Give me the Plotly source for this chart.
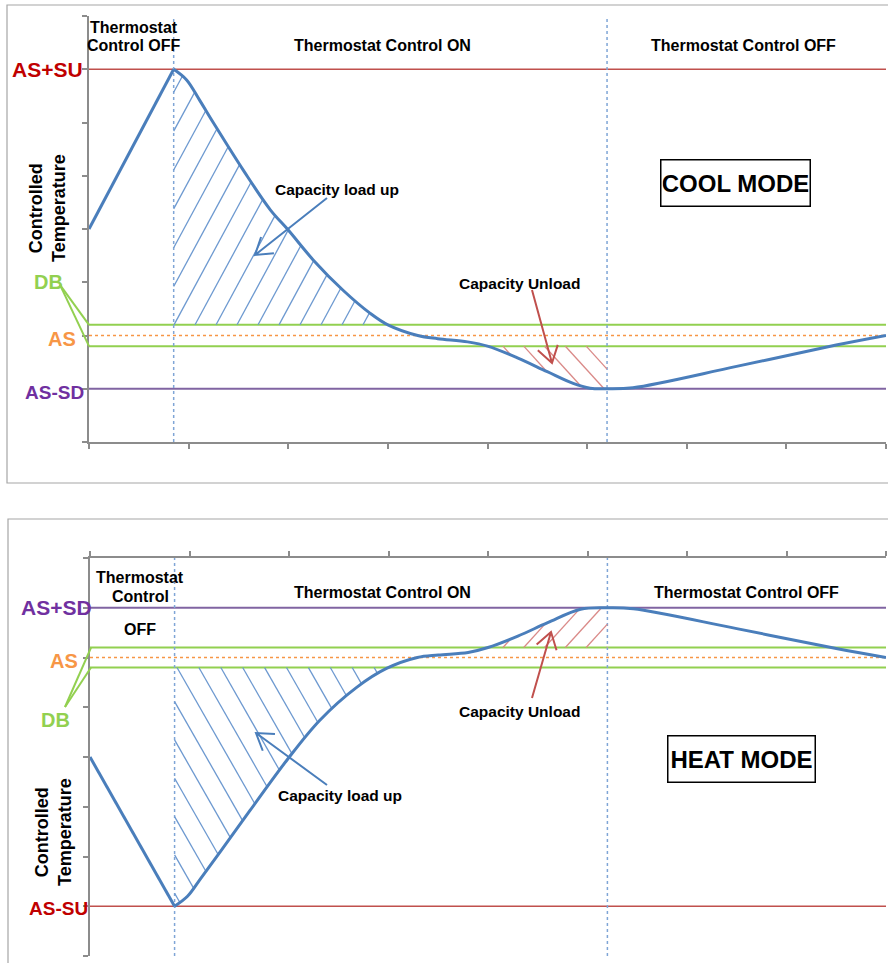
import numpy as np
import plotly.graph_objects as go

W, H = 888, 963

# ---------------- data ----------------
tick_values = [0, 1, 2, 3, 4, 5, 6, 7, 8]
phase_switch_times = [0.85, 5.2]

# COOL MODE
cool_time = [0, 0.85, 0.98, 1.11, 1.25, 1.55, 1.82, 2.0, 2.25, 2.55, 2.82, 3.0, 3.3, 3.5,
             3.8, 4.0, 4.3, 4.6, 4.86, 5.03, 5.2, 5.46, 6.5, 7.5, 8.0]
cool_temp = [4.0, 7.0, 6.8, 6.42, 5.99, 5.1, 4.36, 3.98, 3.42, 2.85, 2.42, 2.2, 2.0, 1.94,
             1.88, 1.8, 1.58, 1.32, 1.1, 1.01, 1.0, 1.02, 1.42, 1.82, 2.0]
cool_as_su = 7.0
cool_db_hi = 2.2
cool_as = 2.0
cool_db_lo = 1.8
cool_as_sd = 1.0

# HEAT MODE
heat_time = [0, 0.85, 0.98, 1.11, 1.31, 1.61, 1.98, 2.31, 2.68, 2.98, 3.29, 3.5, 3.8, 4.0,
             4.3, 4.6, 4.93, 5.2, 5.46, 6.5, 7.5, 8.0]
heat_temp = [4.0, 1.0, 1.2, 1.55, 2.1, 2.93, 3.94, 4.74, 5.4, 5.78, 6.0, 6.05, 6.1, 6.2,
             6.43, 6.7, 6.97, 7.0, 6.98, 6.58, 6.18, 6.0]
heat_as_sd = 7.0
heat_db_hi = 6.2
heat_as = 6.0
heat_db_lo = 5.8
heat_as_su = 1.0

# ---------------- layout geometry (pixels) ----------------
TOP_X = (89, 886)
TOP_Y = (16, 442)
BOT_X = (90, 886)
BOT_Y = (558, 956)

def X(px):
    return px / W

def Y(py):
    return 1 - py / H

sx_top = (TOP_X[1] - TOP_X[0]) / 8.0
sy_top = (TOP_Y[1] - TOP_Y[0]) / 8.0
sx_bot = (BOT_X[1] - BOT_X[0]) / 8.0
sy_bot = (BOT_Y[1] - BOT_Y[0]) / 8.0

FONT = "Liberation Sans, Arial, sans-serif"
C_CURVE = "#4a7ebb"
C_RED_LINE = "#c0504d"
C_RED_TXT = "#c00000"
C_PURPLE_LINE = "#8064a2"
C_PURPLE_TXT = "#7030a0"
C_GREEN = "#92d050"
C_ORANGE = "#f79646"
C_VLINE = "#7fa5d6"
C_HATCH_BLUE = "#6d99d0"
C_HATCH_RED = "#da8a88"
C_AXIS = "#8c8c8c"


def spline_dense(xs, ys, sx, sy, n=40):
    """Replicates plotly's open spline smoothing (smoothing=1) in pixel space."""
    P = np.column_stack([np.asarray(xs, float) * sx, -np.asarray(ys, float) * sy])
    T = []
    for i in range(1, len(P) - 1):
        d1 = P[i - 1] - P[i]
        d2 = P[i + 1] - P[i]
        d1a = np.hypot(*d1) ** 0.5
        d2a = np.hypot(*d2) ** 0.5
        num = d2a ** 2 * d1 - d1a ** 2 * d2
        den1 = 3 * d2a * (d1a + d2a)
        den2 = 3 * d1a * (d1a + d2a)
        T.append((P[i] + num / den1, P[i] - num / den2))
    t = np.linspace(0, 1, n)[:, None]

    def quad(a, c, b):
        return (1 - t) ** 2 * a + 2 * (1 - t) * t * c + t ** 2 * b

    def cub(a, c1, c2, b):
        return (1 - t) ** 3 * a + 3 * (1 - t) ** 2 * t * c1 + 3 * (1 - t) * t ** 2 * c2 + t ** 3 * b

    out = [P[:1], quad(P[0], T[0][0], P[1])[1:]]
    for i in range(2, len(P) - 1):
        out.append(cub(P[i - 1], T[i - 2][1], T[i - 1][0], P[i])[1:])
    out.append(quad(P[-2], T[-1][1], P[-1])[1:])
    D = np.vstack(out)
    cx = np.maximum.accumulate(D[:, 0] / sx)
    return cx, -D[:, 1] / sy


def hatch(cx, cy, starts, ybase, slope, xlo, xhi, band, side):
    hx, hy = [], []
    t = np.linspace(xlo, xhi, 4000)
    cyv = np.interp(t, cx, cy)
    for xi in starts:
        ly = ybase + slope * (t - xi)
        ok = (band * (ly - ybase) >= -1e-9) & (side * (cyv - ly) >= 0)
        idx = np.flatnonzero(ok)
        if len(idx) < 2:
            continue
        brk = np.flatnonzero(np.diff(idx) > 1)
        end = idx[brk[0]] if len(brk) else idx[-1]
        i0 = idx[0]
        if end - i0 < 2:
            continue
        hx += [t[i0], t[end], None]
        hy += [ly[i0], ly[end], None]
    return hx, hy


fig = go.Figure()

# ---------- hatching ----------
on_t, off_t = phase_switch_times
ccx, ccy = spline_dense(cool_time[1:], cool_temp[1:], sx_top, sy_top)
hcx, hcy = spline_dense(heat_time[1:], heat_temp[1:], sx_bot, sy_bot)

sp = 21.0 / sx_top
hx, hy = hatch(ccx, ccy, [on_t + 0.003 + k * sp for k in range(-40, 14)], cool_db_hi,
               1.85 * sx_top / sy_top, on_t, 4.0, +1, +1)
fig.add_trace(go.Scatter(x=hx, y=hy, mode="lines", line=dict(color=C_HATCH_BLUE, width=1.3),
                         xaxis="x", yaxis="y", hoverinfo="skip"))
sp = 20.8 / sx_top
hx, hy = hatch(ccx, ccy, [4.155 + k * sp for k in range(-5, 6)], cool_db_lo,
               -1.1 * sx_top / sy_top, 3.5, off_t, -1, -1)
fig.add_trace(go.Scatter(x=hx, y=hy, mode="lines", line=dict(color=C_HATCH_RED, width=1.3),
                         xaxis="x", yaxis="y", hoverinfo="skip"))

sp = 21.9 / sx_bot
hx, hy = hatch(hcx, hcy, [0.874 + k * sp for k in range(-40, 14)], heat_db_lo,
               -1.75 * sx_bot / sy_bot, on_t, 4.0, -1, -1)
fig.add_trace(go.Scatter(x=hx, y=hy, mode="lines", line=dict(color=C_HATCH_BLUE, width=1.3),
                         xaxis="x2", yaxis="y2", hoverinfo="skip"))
sp = 20.8 / sx_bot
hx, hy = hatch(hcx, hcy, [4.15 + k * sp for k in range(-5, 6)], heat_db_hi,
               1.1 * sx_bot / sy_bot, 3.5, off_t, +1, +1)
fig.add_trace(go.Scatter(x=hx, y=hy, mode="lines", line=dict(color=C_HATCH_RED, width=1.3),
                         xaxis="x2", yaxis="y2", hoverinfo="skip"))

# ---------- curves ----------
for (tx, ty, xa, ya) in [(cool_time, cool_temp, "x", "y"), (heat_time, heat_temp, "x2", "y2")]:
    fig.add_trace(go.Scatter(x=tx[:2], y=ty[:2], mode="lines",
                             line=dict(color=C_CURVE, width=3), xaxis=xa, yaxis=ya))
    fig.add_trace(go.Scatter(x=tx[1:], y=ty[1:], mode="lines",
                             line=dict(color=C_CURVE, width=3, shape="spline", smoothing=1,
                                       simplify=False), xaxis=xa, yaxis=ya))

# ---------- shapes ----------
shapes = []

def hline(xref, yref, yv, color, width=1.6, dash="solid"):
    shapes.append(dict(type="line", xref=xref, yref=yref, x0=0, x1=8, y0=yv, y1=yv,
                       line=dict(color=color, width=width, dash=dash), layer="below"))

hline("x", "y", cool_as_su, C_RED_LINE)
hline("x", "y", cool_db_hi, C_GREEN, 2)
hline("x", "y", cool_db_lo, C_GREEN, 2)
hline("x", "y", cool_as, C_ORANGE, 1.6, "dot")
hline("x", "y", cool_as_sd, C_PURPLE_LINE, 2.2)

hline("x2", "y2", heat_as_sd, C_PURPLE_LINE, 2.2)
hline("x2", "y2", heat_db_hi, C_GREEN, 2)
hline("x2", "y2", heat_db_lo, C_GREEN, 2)
hline("x2", "y2", heat_as, C_ORANGE, 1.6, "dot")
hline("x2", "y2", heat_as_su, C_RED_LINE)

for xr, yr in [("x", "y"), ("x2", "y2")]:
    for tv in phase_switch_times:
        shapes.append(dict(type="line", xref=xr, yref=yr, x0=tv, x1=tv, y0=0, y1=8,
                           line=dict(color=C_VLINE, width=1.5, dash="dot"), layer="below"))

# DB leader lines
for yv in (cool_db_hi, cool_db_lo):
    shapes.append(dict(type="line", xref="paper", yref="y", x0=X(60), y0=3.0 - 0.05,
                       x1=X(89), y1=yv, line=dict(color=C_GREEN, width=2)))
for yv in (heat_db_hi, heat_db_lo):
    shapes.append(dict(type="line", xref="paper", yref="paper", x0=X(65), y0=Y(707),
                       x1=X(91), y1=Y(BOT_Y[1] - yv * sy_bot), line=dict(color=C_GREEN, width=2)))

# outer frames
shapes.append(dict(type="rect", xref="paper", yref="paper", x0=X(7), y0=Y(483), x1=1.01, y1=Y(5),
                   line=dict(color="#a6a6a6", width=1.2)))
shapes.append(dict(type="rect", xref="paper", yref="paper", x0=X(8), y0=-0.02, x1=1.01, y1=Y(519),
                   line=dict(color="#a6a6a6", width=1.2)))


def arrow(tail, tip, color, head=19, ang=33):
    x0, y0 = tail
    x1, y1 = tip
    dx, dy = x0 - x1, y0 - y1
    L = np.hypot(dx, dy)
    ux, uy = dx / L, dy / L
    a = np.radians(ang)
    arms = []
    for s in (1, -1):
        rx = ux * np.cos(s * a) - uy * np.sin(s * a)
        ry = ux * np.sin(s * a) + uy * np.cos(s * a)
        arms.append((x1 + head * rx, y1 + head * ry))
    path = (f"M {X(x0):.5f},{Y(y0):.5f} L {X(x1):.5f},{Y(y1):.5f} "
            f"M {X(arms[0][0]):.5f},{Y(arms[0][1]):.5f} L {X(x1):.5f},{Y(y1):.5f} "
            f"L {X(arms[1][0]):.5f},{Y(arms[1][1]):.5f}")
    shapes.append(dict(type="path", xref="paper", yref="paper", path=path,
                       line=dict(color=color, width=2)))

arrow((327, 198), (255, 255), C_CURVE)
arrow((532, 290), (552, 363), C_RED_LINE)
arrow((327, 785), (256, 733), C_CURVE)
arrow((532, 698), (551, 632), C_RED_LINE)

# ---------- annotations ----------
anns = []

def ann(text, px, py, size=15.5, color="black", xanchor="center", **kw):
    anns.append(dict(text=text, x=X(px), y=Y(py), xref="paper", yref="paper",
                     showarrow=False, xanchor=xanchor, yanchor="middle",
                     font=dict(family=FONT, size=size, color=color), **kw))

B = lambda s: f"<b>{s}</b>"

# top
ann(B("Thermostat"), 134, 27, 16)
ann(B("Control OFF"), 134, 45, 16)
ann(B("Thermostat Control ON"), 382, 45, 16)
ann(B("Thermostat Control OFF"), 743, 45, 16)
ann(B("Capacity load up"), 337, 190)
ann(B("Capacity Unload"), 519, 284)
ann(B("AS+SU"), 85, 69, 21, C_RED_TXT, "right")
ann(B("DB"), 48, 282, 20, C_GREEN)
ann(B("AS"), 78, 339, 20, C_ORANGE, "right")
ann(B("AS-SD"), 86, 393, 19, C_PURPLE_TXT, "right")
ann(B("Controlled<br>Temperature"), 47, 208, 18, textangle=-90)
anns.append(dict(text=B("COOL MODE"), x=X(735), y=Y(183), xref="paper", yref="paper",
                 showarrow=False, xanchor="center", yanchor="middle",
                 font=dict(family=FONT, size=24, color="black"),
                 bordercolor="black", borderwidth=1.5, borderpad=1, bgcolor="white",
                 width=146, height=43))

# bottom
ann(B("Thermostat"), 140, 577, 16)
ann(B("Control"), 140, 596, 16)
ann(B("OFF"), 140, 629, 16)
ann(B("Thermostat Control ON"), 382, 592, 16)
ann(B("Thermostat Control OFF"), 746, 592, 16)
ann(B("Capacity load up"), 340, 795)
ann(B("Capacity Unload"), 519, 711)
ann(B("AS+SD"), 94, 607, 21, C_PURPLE_TXT, "right")
ann(B("AS"), 80, 661, 20, C_ORANGE, "right")
ann(B("DB"), 55, 720, 20, C_GREEN)
ann(B("AS-SU"), 90, 908, 19, C_RED_TXT, "right")
ann(B("Controlled<br>Temperature"), 53, 832, 18, textangle=-90)
anns.append(dict(text=B("HEAT MODE"), x=X(741), y=Y(759), xref="paper", yref="paper",
                 showarrow=False, xanchor="center", yanchor="middle",
                 font=dict(family=FONT, size=24, color="black"),
                 bordercolor="black", borderwidth=1.5, borderpad=1, bgcolor="white",
                 width=144, height=43))

axis_common = dict(range=[0, 8], tickvals=tick_values, showticklabels=False, showgrid=False,
                   zeroline=False, showline=True, linecolor=C_AXIS, linewidth=2,
                   ticks="outside", ticklen=5, tickwidth=1.5, tickcolor=C_AXIS,
                   fixedrange=True)

fig.update_layout(
    width=W, height=H, autosize=False,
    margin=dict(l=0, r=0, t=0, b=0, pad=0),
    paper_bgcolor="white", plot_bgcolor="white",
    showlegend=False,
    xaxis=dict(domain=[X(TOP_X[0]), X(TOP_X[1])], anchor="y", **axis_common),
    yaxis=dict(domain=[Y(TOP_Y[1]), Y(TOP_Y[0])], anchor="x", **axis_common),
    xaxis2=dict(domain=[X(BOT_X[0]), X(BOT_X[1])], anchor="y2", side="top", **axis_common),
    yaxis2=dict(domain=[Y(BOT_Y[1]), Y(BOT_Y[0])], anchor="x2", **axis_common),
    shapes=shapes,
    annotations=anns,
    font=dict(family=FONT),
)

fig.write_html("out.html", config={"displayModeBar": False},
               post_script="document.body.style.margin='0px';document.body.style.overflow='hidden';")
